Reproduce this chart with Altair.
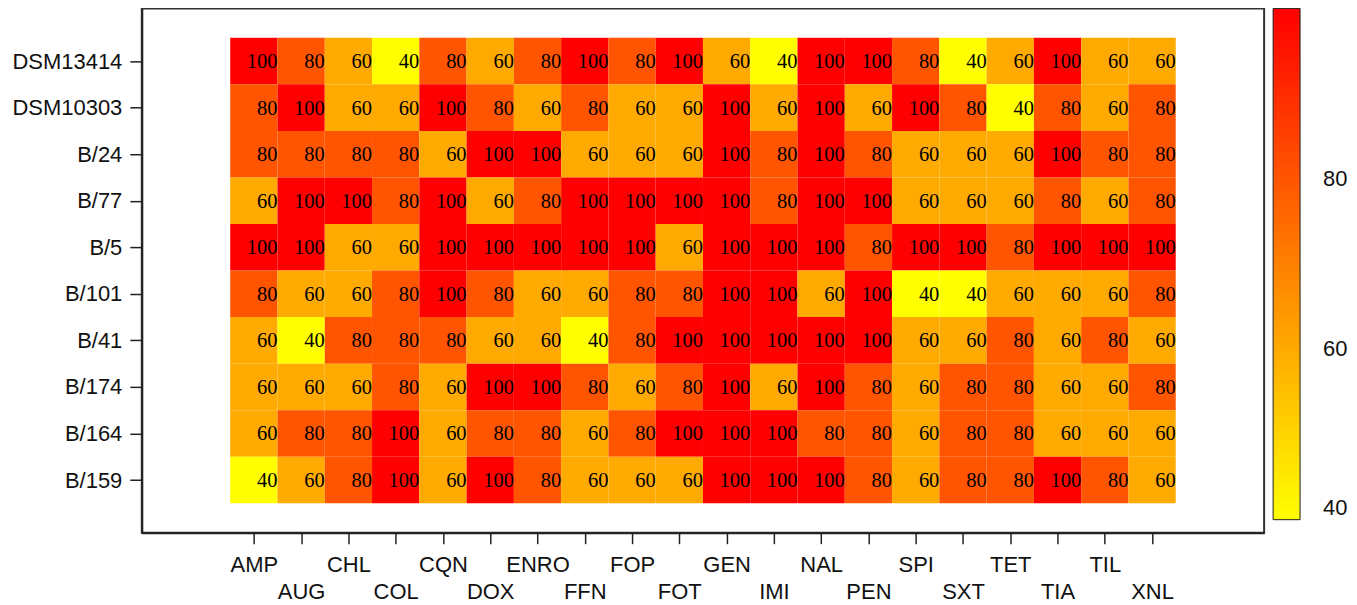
import altair as alt
import pandas as pd
import json

cols = ["AMP", "AUG", "CHL", "COL", "CQN", "DOX", "ENRO", "FFN", "FOP", "FOT",
        "GEN", "IMI", "NAL", "PEN", "SPI", "SXT", "TET", "TIA", "TIL", "XNL"]
rows = ["DSM13414", "DSM10303", "B/24", "B/77", "B/5", "B/101", "B/41", "B/174", "B/164", "B/159"]

v_dsm13414 = [100, 80, 60, 40, 80, 60, 80, 100, 80, 100, 60, 40, 100, 100, 80, 40, 60, 100, 60, 60]
v_dsm10303 = [80, 100, 60, 60, 100, 80, 60, 80, 60, 60, 100, 60, 100, 60, 100, 80, 40, 80, 60, 80]
v_b24 = [80, 80, 80, 80, 60, 100, 100, 60, 60, 60, 100, 80, 100, 80, 60, 60, 60, 100, 80, 80]
v_b77 = [60, 100, 100, 80, 100, 60, 80, 100, 100, 100, 100, 80, 100, 100, 60, 60, 60, 80, 60, 80]
v_b5 = [100, 100, 60, 60, 100, 100, 100, 100, 100, 60, 100, 100, 100, 80, 100, 100, 80, 100, 100, 100]
v_b101 = [80, 60, 60, 80, 100, 80, 60, 60, 80, 80, 100, 100, 60, 100, 40, 40, 60, 60, 60, 80]
v_b41 = [60, 40, 80, 80, 80, 60, 60, 40, 80, 100, 100, 100, 100, 100, 60, 60, 80, 60, 80, 60]
v_b174 = [60, 60, 60, 80, 60, 100, 100, 80, 60, 80, 100, 60, 100, 80, 60, 80, 80, 60, 60, 80]
v_b164 = [60, 80, 80, 100, 60, 80, 80, 60, 80, 100, 100, 100, 80, 80, 60, 80, 80, 60, 60, 60]
v_b159 = [40, 60, 80, 100, 60, 100, 80, 60, 60, 60, 100, 100, 100, 80, 60, 80, 80, 100, 80, 60]

all_vals = [v_dsm13414, v_dsm10303, v_b24, v_b77, v_b5, v_b101, v_b41, v_b174, v_b164, v_b159]

records = []
for j, (r, vals) in enumerate(zip(rows, all_vals)):
    for i, (c, v) in enumerate(zip(cols, vals)):
        records.append({"strain": r, "drug": c, "value": v,
                        "x0": i, "x1": i + 1, "y0": j, "y1": j + 1, "yc": j + 0.5})
df = pd.DataFrame(records)

cols_js = json.dumps(cols)
rows_js = json.dumps(rows)

xscale = alt.Scale(domain=[-1.87, 21.87], nice=False, zero=False)
yscale = alt.Scale(domain=[-0.63, 10.63], nice=False, zero=False, reverse=True)

xaxis = alt.Axis(values=[i + 0.5 for i in range(len(cols))],
                 labelExpr=f"{cols_js}[floor(datum.value)]",
                 labelAngle=0, labelFont="Liberation Sans", labelFontSize=22,
                 labelColor="#111111", tickSize=11, tickColor="#222222", tickWidth=1.5,
                 domainColor="#222222", domainWidth=2, grid=False,
                 labelBaseline="top", labelFlush=False, labelOverlap=False,
                 labelPadding=alt.ConditionalAxisNumber(
                     condition={"test": "floor(datum.value) % 2 == 1", "value": 38}, value=11))
yaxis = alt.Axis(values=[j + 0.5 for j in range(len(rows))],
                 labelExpr=f"{rows_js}[floor(datum.value)]",
                 labelFont="Liberation Sans", labelFontSize=22, labelColor="#111111",
                 tickSize=12, tickColor="#222222", tickWidth=1.5, labelPadding=8,
                 domainColor="#222222", domainWidth=2, grid=False,
                 labelFlush=False, labelOverlap=False)

base = alt.Chart(df)

rects = base.mark_rect(strokeWidth=0).encode(
    x=alt.X("x0:Q", scale=xscale, title=None, axis=xaxis),
    x2="x1:Q",
    y=alt.Y("y0:Q", scale=yscale, title=None, axis=yaxis),
    y2="y1:Q",
    color=alt.Color("value:Q",
                    scale=alt.Scale(domain=[40, 100], range=["#ffff00", "#ff0000"], interpolate="rgb"),
                    legend=alt.Legend(title=None, values=[40, 60, 80], gradientLength=512,
                                      gradientThickness=27, gradientStrokeColor="#222222",
                                      gradientStrokeWidth=1, labelFont="Liberation Sans",
                                      labelFontSize=22, labelColor="#111111", labelOffset=23,
                                      offset=9, padding=0)),
)

texts = base.mark_text(font="Liberation Serif", fontSize=20.5, color="#000000",
                       align="right", baseline="middle", dx=0, dy=1).encode(
    x=alt.X("x1:Q", scale=xscale),
    y=alt.Y("yc:Q", scale=yscale),
    text="value:Q",
)

chart = alt.layer(rects, texts).properties(
    width=1124, height=525,
    autosize=alt.AutoSizeParams(type="none"),
    padding={"left": 134, "top": 0, "right": 85, "bottom": 74},
).configure_view(stroke="#333333", strokeWidth=2)

chart.save("out.html", embed_options={"renderer": "svg", "actions": False})
